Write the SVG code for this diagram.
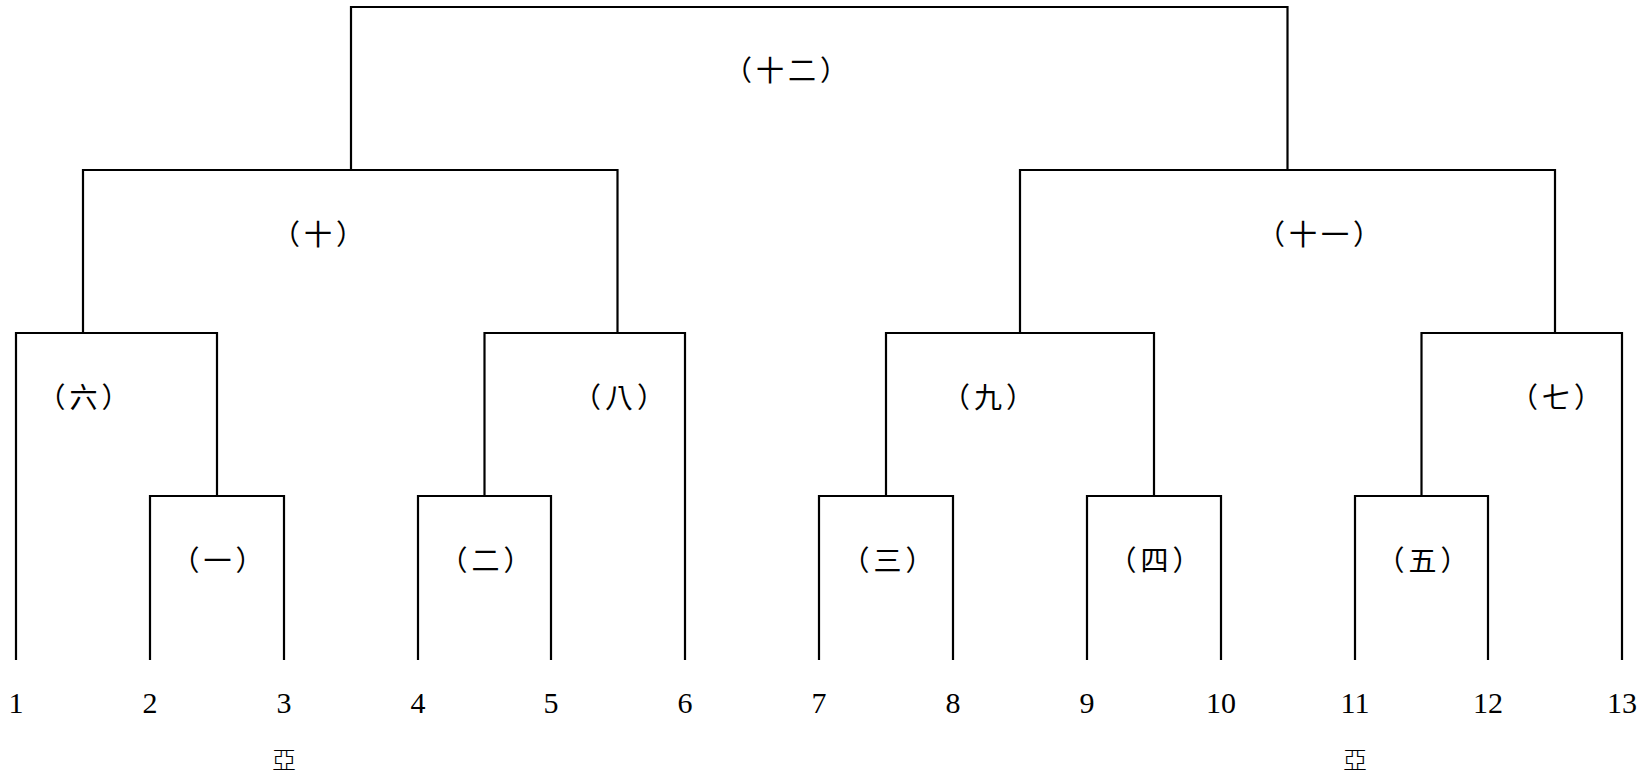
<svg xmlns="http://www.w3.org/2000/svg" width="1644" height="778" viewBox="0 0 1644 778">
<style>
.ln{fill:none;stroke:#000;stroke-width:2.2;stroke-linecap:square;stroke-linejoin:miter}
.lbl{font-family:"Noto Sans CJK TC","Noto Sans CJK SC",sans-serif;font-size:28px;fill:#000;text-anchor:middle;letter-spacing:4px}
.num{font-family:"Liberation Serif","Times New Roman",serif;font-size:30px;fill:#000;text-anchor:middle}
.ya{font-family:"Noto Sans CJK TC","Noto Sans CJK SC",sans-serif;font-size:24px;font-weight:300;fill:#000;text-anchor:middle}
</style>
<rect width="1644" height="778" fill="#fff"/>
<g id="connectors">
<path class="ln" d="M351,170 V7 H1287.5 V170"/>
<path class="ln" d="M83,333 V170 H617.5 V333"/>
<path class="ln" d="M1020,333 V170 H1555 V333"/>
<path class="ln" d="M16,659 V333 H217 V496"/>
<path class="ln" d="M484.5,496 V333 H685 V659"/>
<path class="ln" d="M886,496 V333 H1154 V496"/>
<path class="ln" d="M1421.5,496 V333 H1622 V659"/>
<path class="ln" d="M150,659 V496 H284 V659"/>
<path class="ln" d="M418,659 V496 H551 V659"/>
<path class="ln" d="M819,659 V496 H953 V659"/>
<path class="ln" d="M1087,659 V496 H1221 V659"/>
<path class="ln" d="M1355,659 V496 H1488 V659"/>
</g>
<g id="merge-12"><text class="lbl" x="788" y="80.6">（十二）</text></g>
<g id="merge-10"><text class="lbl" x="320" y="244.6">（十）</text></g>
<g id="merge-11"><text class="lbl" x="1321" y="244.6">（十一）</text></g>
<g id="merge-6"><text class="lbl" x="85.5" y="407.6">（六）</text></g>
<g id="merge-8"><text class="lbl" x="621" y="407.6">（八）</text></g>
<g id="merge-9"><text class="lbl" x="990" y="407.6">（九）</text></g>
<g id="merge-7"><text class="lbl" x="1558" y="407.6">（七）</text></g>
<g id="merge-1"><text class="lbl" x="219.5" y="571">（一）</text></g>
<g id="merge-2"><text class="lbl" x="487.5" y="571">（二）</text></g>
<g id="merge-3"><text class="lbl" x="889.5" y="571">（三）</text></g>
<g id="merge-4"><text class="lbl" x="1156.5" y="571">（四）</text></g>
<g id="merge-5"><text class="lbl" x="1424.5" y="571">（五）</text></g>
<g id="leaf-1"><text class="num" x="16" y="713">1</text></g>
<g id="leaf-2"><text class="num" x="150" y="713">2</text></g>
<g id="leaf-3"><text class="num" x="284" y="713">3</text></g>
<g id="leaf-4"><text class="num" x="418" y="713">4</text></g>
<g id="leaf-5"><text class="num" x="551" y="713">5</text></g>
<g id="leaf-6"><text class="num" x="685" y="713">6</text></g>
<g id="leaf-7"><text class="num" x="819" y="713">7</text></g>
<g id="leaf-8"><text class="num" x="953" y="713">8</text></g>
<g id="leaf-9"><text class="num" x="1087" y="713">9</text></g>
<g id="leaf-10"><text class="num" x="1221" y="713">10</text></g>
<g id="leaf-11"><text class="num" x="1355" y="713">11</text></g>
<g id="leaf-12"><text class="num" x="1488" y="713">12</text></g>
<g id="leaf-13"><text class="num" x="1622" y="713">13</text></g>
<g id="note-left"><text class="ya" x="284" y="769">亞</text></g>
<g id="note-right"><text class="ya" x="1355" y="769">亞</text></g>
</svg>
